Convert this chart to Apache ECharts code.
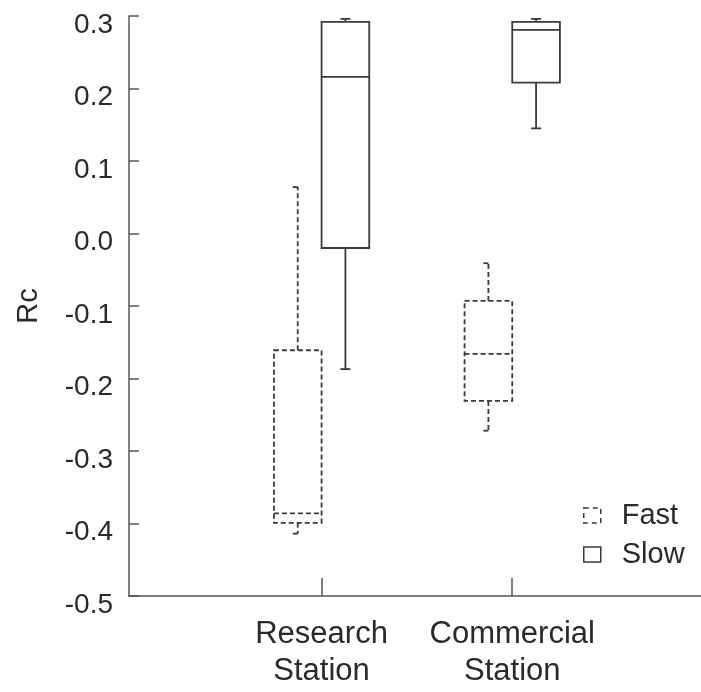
<!DOCTYPE html>
<html><head><meta charset="utf-8">
<script src="https://cdn.jsdelivr.net/npm/echarts@6/dist/echarts.min.js"></script>
<style>html,body{margin:0;padding:0;background:#fff}#c{width:701px;height:692px}</style>
</head><body><div id="c"></div>
<script>
// ---- data ----
const categories = ['Research\nStation', 'Commercial\nStation'];
const yMin = -0.5, yMax = 0.3, yStep = 0.1;
// [min, Q1, median, Q3, max]
const fastValues = [
  [-0.414, -0.399, -0.386, -0.161, 0.064],
  [-0.272, -0.231, -0.166, -0.093, -0.041]
];
const slowValues = [
  [-0.187, -0.020, 0.216, 0.292, 0.296],
  [0.145, 0.208, 0.281, 0.292, 0.296]
];

// ---- style ----
const LINE = '#3a3a3a';
const AXIS = '#555';
const TEXT = '#2a2a2a';
const FONT = 'Liberation Sans, Arial, sans-serif';
const BOX_W = 0.25;

function makeRender(offset, dashed, capL, capR) {
  return function (params, api) {
    const x = api.value(0);
    const mn = api.value(1), q1 = api.value(2), md = api.value(3), q3 = api.value(4), mx = api.value(5);
    const xl = api.coord([x + offset, 0])[0];
    const xr = api.coord([x + offset + BOX_W, 0])[0];
    const xc = (xl + xr) / 2;
    const y = v => api.coord([x, v])[1];
    const st = { stroke: LINE, lineWidth: 1.8, fill: 'none', lineDash: dashed ? [5, 3] : null };
    const line = (x1, y1, x2, y2) => ({ type: 'line', shape: { x1, y1, x2, y2 }, style: st });
    return {
      type: 'group', children: [
        { type: 'rect', shape: { x: xl, y: y(q3), width: xr - xl, height: y(q1) - y(q3) }, style: st },
        line(xl, y(md), xr, y(md)),
        line(xc, y(q3), xc, y(mx)),
        line(xc, y(q1), xc, y(mn)),
        line(xc - capL, y(mx), xc + capR, y(mx)),
        line(xc - capL, y(mn), xc + capR, y(mn))
      ]
    };
  };
}

const chart = echarts.init(document.getElementById('c'), null, { renderer: 'canvas' });
chart.setOption({
  backgroundColor: '#fff',
  animation: false,
  grid: { left: 129, top: 16, height: 580, width: 574 },
  legend: {
    orient: 'vertical', left: 583, top: 501, padding: 0,
    itemWidth: 17, itemHeight: 15, itemGap: 10,
    selectedMode: false,
    textStyle: { fontFamily: FONT, fontSize: 29, color: TEXT, lineHeight: 29, padding: [0, 0, 0, 16] },
    data: [
      { name: 'Fast', icon: 'rect', itemStyle: { color: 'transparent', borderColor: LINE, borderWidth: 1.5, borderType: [5, 4] } },
      { name: 'Slow', icon: 'rect', itemStyle: { color: 'transparent', borderColor: LINE, borderWidth: 1.5, borderType: 'solid' } }
    ]
  },
  xAxis: {
    type: 'value', min: -0.01, max: 2.99,
    splitLine: { show: false },
    axisLine: { show: true, onZero: false, lineStyle: { color: AXIS, width: 1.5 } },
    axisTick: { show: true, inside: true, length: 18, customValues: [1, 2], lineStyle: { color: AXIS, width: 1.5 } },
    axisLabel: {
      customValues: [1, 2],
      formatter: v => categories[Math.round(v) - 1] || '',
      fontFamily: FONT, fontSize: 31, lineHeight: 37, color: TEXT, margin: 20
    }
  },
  yAxis: {
    type: 'value', min: yMin, max: yMax, interval: yStep,
    name: 'Rc', nameLocation: 'middle', nameGap: 86, nameRotate: 90,
    nameTextStyle: { fontFamily: FONT, fontSize: 29, color: TEXT },
    splitLine: { show: false },
    axisLine: { show: true, onZero: false, lineStyle: { color: AXIS, width: 1.5 } },
    axisTick: { show: true, inside: true, length: 10, lineStyle: { color: AXIS, width: 1.5 } },
    axisLabel: {
      formatter: v => v.toFixed(1),
      fontFamily: FONT, fontSize: 28, color: TEXT, margin: 16,
      verticalAlign: 'top', lineHeight: 18
    }
  },
  series: [
    {
      name: 'Fast', type: 'custom', clip: false,
      itemStyle: { color: 'transparent', borderColor: LINE },
      renderItem: makeRender(-BOX_W, true, 5, 0),
      encode: { x: 0, y: [1, 2, 3, 4, 5] },
      data: fastValues.map((v, i) => [i + 1].concat(v))
    },
    {
      name: 'Slow', type: 'custom', clip: false,
      itemStyle: { color: 'transparent', borderColor: LINE },
      renderItem: makeRender(0, false, 5, 5),
      encode: { x: 0, y: [1, 2, 3, 4, 5] },
      data: slowValues.map((v, i) => [i + 1].concat(v))
    }
  ]
});
</script></body></html>
